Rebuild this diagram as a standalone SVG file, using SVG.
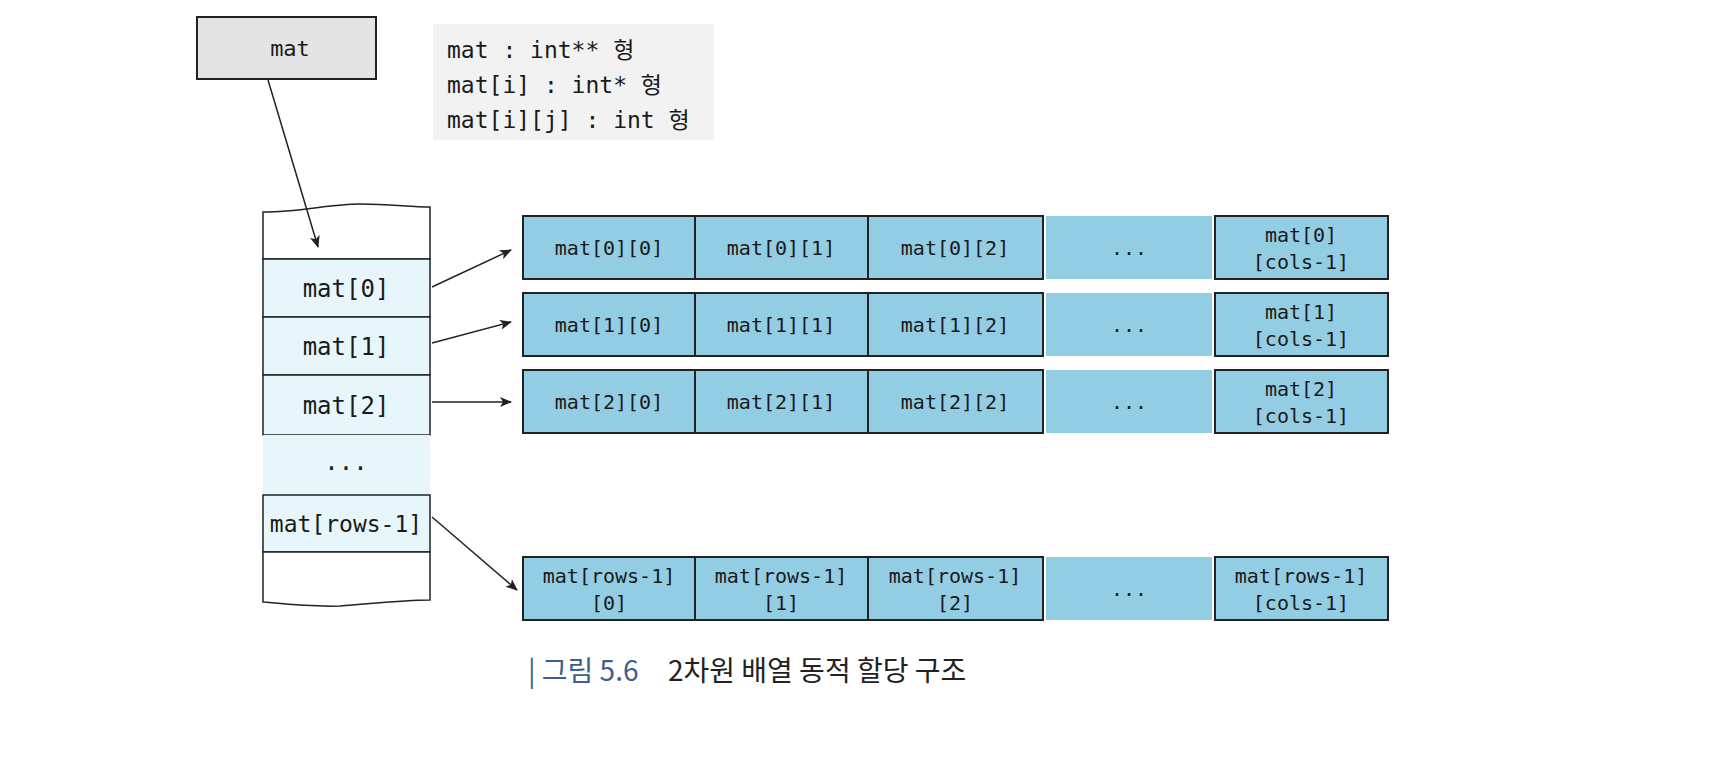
<svg xmlns="http://www.w3.org/2000/svg" width="1710" height="783" viewBox="0 0 1710 783">
<style>
.t{font-family:"DejaVu Sans Mono","Noto Sans CJK KR",monospace;fill:#1a1a1a;text-anchor:middle}
.c{fill:#e6f6fb;stroke:#222;stroke-width:1.5}
.a{fill:#92cde4;stroke:#222;stroke-width:2}
.ln{stroke:#222;stroke-width:1.5;fill:none;marker-end:url(#ah)}
</style>
<defs><marker id="ah" markerWidth="12" markerHeight="10" refX="11" refY="5" orient="auto" markerUnits="userSpaceOnUse"><path d="M0,0 L12,5 L0,10 L3,5 z" fill="#222"/></marker></defs>
<rect width="1710" height="783" fill="#fff"/>
<g id="mat"><rect x="197" y="17" width="179" height="62" fill="#e4e4e4" stroke="#222" stroke-width="2"/><text class="t" x="290" y="56" font-size="22">mat</text></g>
<g id="legend"><rect x="433" y="24" width="281" height="116" fill="#f2f2f2"/>
<text class="t" style="text-anchor:start" x="447" y="58" font-size="23">mat : int** 형</text>
<text class="t" style="text-anchor:start" x="447" y="93" font-size="23">mat[i] : int* 형</text>
<text class="t" style="text-anchor:start" x="447" y="128" font-size="23">mat[i][j] : int 형</text></g>
<g id="column">
<path d="M263,212 C300,212 330,204 360,204 C390,204 410,207 430,207 L430,259 L263,259 Z" fill="#fff" stroke="#222" stroke-width="1.5"/>
<rect class="c" x="263" y="259" width="167" height="58"/><text class="t" x="346" y="297" font-size="24">mat[0]</text>
<rect class="c" x="263" y="317" width="167" height="58"/><text class="t" x="346" y="355" font-size="24">mat[1]</text>
<rect class="c" x="263" y="375" width="167" height="60"/><text class="t" x="346" y="414" font-size="24">mat[2]</text>
<rect x="263" y="435" width="167" height="60" fill="#e6f6fb"/><text class="t" x="346" y="470" font-size="24">...</text>
<rect class="c" x="263" y="495" width="167" height="57"/><text class="t" x="346" y="532" font-size="23">mat[rows-1]</text>
<path d="M263,552 L430,552 L430,600 C400,600 370,604 340,606 C310,607 285,604 263,602 Z" fill="#fff" stroke="#222" stroke-width="1.5"/>
</g>
<g id="row0">
<rect class="a" x="523" y="216" width="172" height="63"/><text class="t" x="609" y="255" font-size="20">mat[0][0]</text>
<rect class="a" x="695" y="216" width="173" height="63"/><text class="t" x="781" y="255" font-size="20">mat[0][1]</text>
<rect class="a" x="868" y="216" width="175" height="63"/><text class="t" x="955" y="255" font-size="20">mat[0][2]</text>
<rect x="1046" y="216" width="166" height="63" fill="#92cde4"/><text class="t" x="1129" y="255" font-size="20">...</text>
<rect class="a" x="1215" y="216" width="173" height="63"/><text class="t" x="1301" y="242" font-size="20">mat[0]</text><text class="t" x="1301" y="269" font-size="20">[cols-1]</text>
</g>
<g id="row1">
<rect class="a" x="523" y="293" width="172" height="63"/><text class="t" x="609" y="332" font-size="20">mat[1][0]</text>
<rect class="a" x="695" y="293" width="173" height="63"/><text class="t" x="781" y="332" font-size="20">mat[1][1]</text>
<rect class="a" x="868" y="293" width="175" height="63"/><text class="t" x="955" y="332" font-size="20">mat[1][2]</text>
<rect x="1046" y="293" width="166" height="63" fill="#92cde4"/><text class="t" x="1129" y="332" font-size="20">...</text>
<rect class="a" x="1215" y="293" width="173" height="63"/><text class="t" x="1301" y="319" font-size="20">mat[1]</text><text class="t" x="1301" y="346" font-size="20">[cols-1]</text>
</g>
<g id="row2">
<rect class="a" x="523" y="370" width="172" height="63"/><text class="t" x="609" y="409" font-size="20">mat[2][0]</text>
<rect class="a" x="695" y="370" width="173" height="63"/><text class="t" x="781" y="409" font-size="20">mat[2][1]</text>
<rect class="a" x="868" y="370" width="175" height="63"/><text class="t" x="955" y="409" font-size="20">mat[2][2]</text>
<rect x="1046" y="370" width="166" height="63" fill="#92cde4"/><text class="t" x="1129" y="409" font-size="20">...</text>
<rect class="a" x="1215" y="370" width="173" height="63"/><text class="t" x="1301" y="396" font-size="20">mat[2]</text><text class="t" x="1301" y="423" font-size="20">[cols-1]</text>
</g>
<g id="rowlast">
<rect class="a" x="523" y="557" width="172" height="63"/><text class="t" x="609" y="583" font-size="20">mat[rows-1]</text><text class="t" x="609" y="610" font-size="20">[0]</text>
<rect class="a" x="695" y="557" width="173" height="63"/><text class="t" x="781" y="583" font-size="20">mat[rows-1]</text><text class="t" x="781" y="610" font-size="20">[1]</text>
<rect class="a" x="868" y="557" width="175" height="63"/><text class="t" x="955" y="583" font-size="20">mat[rows-1]</text><text class="t" x="955" y="610" font-size="20">[2]</text>
<rect x="1046" y="557" width="166" height="63" fill="#92cde4"/><text class="t" x="1129" y="596" font-size="20">...</text>
<rect class="a" x="1215" y="557" width="173" height="63"/><text class="t" x="1301" y="583" font-size="20">mat[rows-1]</text><text class="t" x="1301" y="610" font-size="20">[cols-1]</text>
</g>
<g id="connectors">
<line class="ln" x1="268" y1="80" x2="318" y2="247"/>
<line class="ln" x1="432" y1="287" x2="511" y2="250"/>
<line class="ln" x1="432" y1="343" x2="511" y2="322"/>
<line class="ln" x1="432" y1="402" x2="511" y2="402"/>
<line class="ln" x1="432" y1="517" x2="517" y2="590"/>
</g>
<g id="caption" font-family="'Noto Sans CJK KR','Noto Sans',sans-serif" font-size="28">
<text x="528" y="681" fill="#3c5f8f">| 그림 5.6</text>
<text x="668" y="681" fill="#222">2차원 배열 동적 할당 구조</text>
</g>
</svg>
